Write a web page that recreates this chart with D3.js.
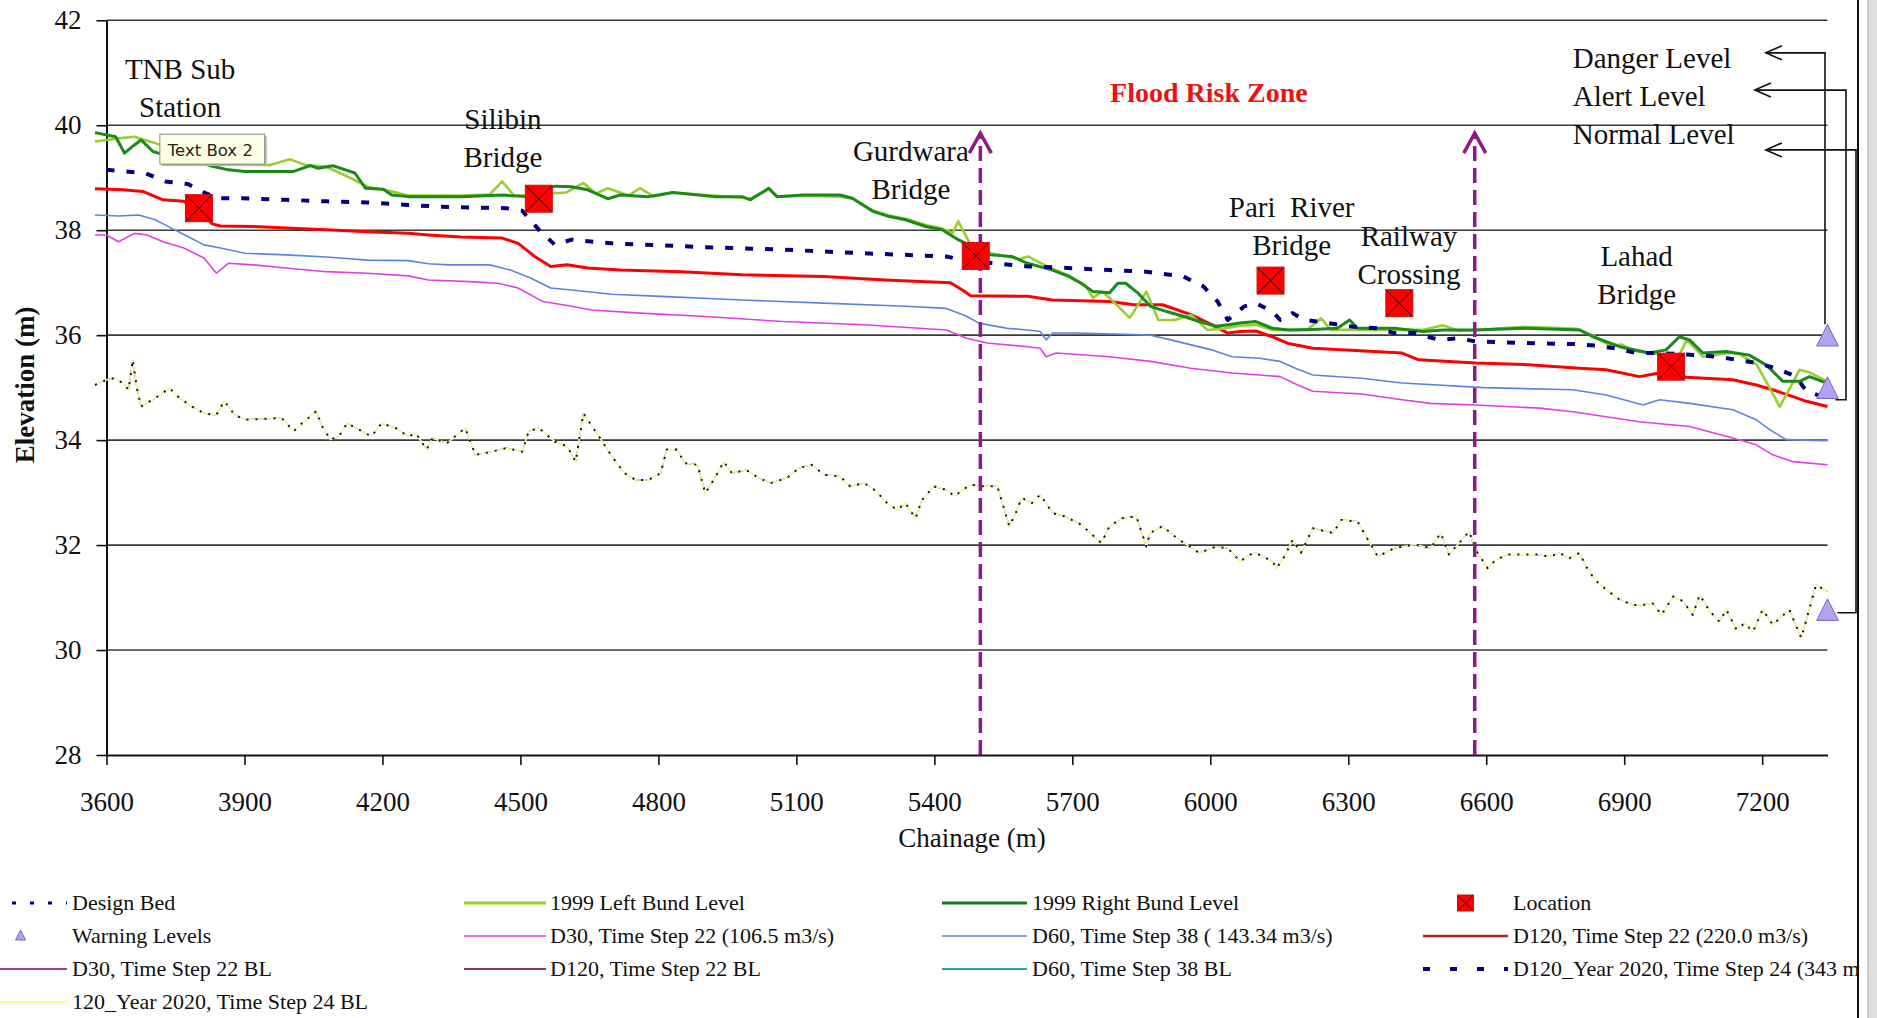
<!DOCTYPE html>
<html>
<head>
<meta charset="utf-8">
<script src="https://cdn.jsdelivr.net/npm/d3@7"></script>
<style>
  html, body { margin: 0; padding: 0; background: #fff; }
  svg { display: block; font-family: "Liberation Serif", "Times New Roman", serif; }
</style>
</head>
<body>
<svg id="chart" width="1877" height="1018"></svg>
<script>
"use strict";

// axis ticks
const xTicks = [3600, 3900, 4200, 4500, 4800, 5100, 5400, 5700, 6000, 6300, 6600, 6900, 7200];
const yTicks = [28, 30, 32, 34, 36, 38, 40, 42];

// [chainage (m), elevation (m)]
const rightBund = [[3575,39.86],[3620,39.78],[3639,39.47],[3660,39.62],[3675,39.72],[3701,39.50],[3720,39.45],[3760,39.38],[3800,39.30],[3830,39.22],[3865,39.15],[3901,39.12],[3945,39.12],[4007,39.12],[4043,39.23],[4060,39.18],[4092,39.23],[4140,39.09],[4163,38.80],[4202,38.78],[4220,38.67],[4256,38.64],[4371,38.64],[4460,38.67],[4513,38.64],[4540,38.72],[4575,38.84],[4611,38.83],[4646,38.77],[4690,38.60],[4717,38.67],[4778,38.64],[4831,38.72],[4920,38.64],[4982,38.64],[5000,38.58],[5040,38.80],[5058,38.64],[5115,38.67],[5195,38.67],[5222,38.61],[5266,38.36],[5302,38.26],[5337,38.20],[5381,38.07],[5417,38.01],[5452,37.82],[5488,37.66],[5523,37.53],[5568,37.50],[5603,37.37],[5657,37.24],[5692,37.12],[5719,36.99],[5745,36.83],[5781,36.81],[5799,36.99],[5816,36.99],[5843,36.80],[5870,36.55],[5905,36.45],[5941,36.36],[5976,36.26],[6012,36.17],[6040,36.20],[6065,36.23],[6099,36.26],[6135,36.13],[6170,36.10],[6223,36.11],[6276,36.13],[6303,36.29],[6320,36.13],[6400,36.13],[6462,36.07],[6506,36.10],[6577,36.10],[6683,36.13],[6803,36.10],[6832,35.97],[6890,35.78],[6955,35.66],[6991,35.72],[7020,35.97],[7042,35.91],[7071,35.66],[7122,35.69],[7172,35.62],[7209,35.43],[7245,35.12],[7281,35.12],[7303,35.21],[7342,35.08]];

const leftBund = [[3575,39.69],[3600,39.72],[3626,39.75],[3661,39.78],[3690,39.70],[3706,39.66],[3740,39.55],[3800,39.40],[3860,39.30],[3900,39.25],[3954,39.24],[3999,39.35],[4034,39.24],[4078,39.21],[4132,38.99],[4167,38.83],[4220,38.74],[4256,38.66],[4371,38.66],[4433,38.68],[4460,38.93],[4486,38.66],[4513,38.66],[4560,38.70],[4600,38.72],[4637,38.90],[4664,38.70],[4690,38.80],[4735,38.66],[4760,38.80],[4790,38.64],[4831,38.72],[4920,38.66],[4982,38.62],[5000,38.60],[5040,38.78],[5058,38.64],[5115,38.66],[5195,38.64],[5222,38.60],[5266,38.38],[5302,38.28],[5337,38.22],[5381,38.10],[5417,38.03],[5440,37.95],[5452,38.17],[5479,37.72],[5523,37.56],[5586,37.45],[5603,37.50],[5657,37.26],[5692,37.14],[5728,36.95],[5745,36.71],[5765,36.83],[5781,36.71],[5825,36.33],[5861,36.83],[5887,36.29],[5923,36.29],[5958,36.39],[5994,36.10],[6030,36.13],[6065,36.18],[6099,36.20],[6135,36.10],[6170,36.10],[6210,36.10],[6241,36.32],[6262,36.10],[6320,36.10],[6400,36.10],[6462,36.10],[6506,36.19],[6540,36.08],[6577,36.10],[6683,36.16],[6797,36.12],[6833,35.99],[6868,35.80],[6895,35.82],[6921,35.70],[6974,35.64],[7001,35.60],[7018,35.59],[7036,35.91],[7071,35.59],[7098,35.62],[7125,35.66],[7151,35.64],[7188,35.44],[7213,35.05],[7238,34.64],[7262,35.02],[7281,35.34],[7300,35.30],[7342,35.12]];

const d120 = [[3575,38.79],[3635,38.77],[3679,38.74],[3723,38.58],[3768,38.55],[3803,38.39],[3830,38.12],[3848,38.08],[3919,38.07],[3990,38.04],[4078,38.01],[4167,37.97],[4256,37.94],[4300,37.91],[4371,37.87],[4460,37.85],[4495,37.75],[4531,37.50],[4566,37.31],[4602,37.34],[4646,37.28],[4717,37.24],[4849,37.21],[4982,37.15],[5160,37.12],[5293,37.05],[5435,37.00],[5461,36.86],[5479,36.75],[5603,36.74],[5657,36.67],[5781,36.64],[5834,36.58],[5896,36.58],[5958,36.39],[6003,36.20],[6038,36.04],[6065,36.07],[6099,36.08],[6135,35.97],[6170,35.84],[6223,35.75],[6285,35.72],[6417,35.66],[6453,35.53],[6577,35.47],[6683,35.44],[6803,35.37],[6861,35.34],[6933,35.21],[6970,35.27],[7035,35.20],[7136,35.15],[7187,35.05],[7223,34.96],[7267,34.83],[7296,34.74],[7342,34.64]];

const d60 = [[3575,38.29],[3626,38.27],[3670,38.29],[3706,38.20],[3741,38.04],[3777,37.88],[3812,37.72],[3848,37.66],[3901,37.56],[3990,37.53],[4078,37.49],[4167,37.43],[4256,37.42],[4300,37.36],[4345,37.34],[4433,37.34],[4478,37.24],[4522,37.09],[4566,36.90],[4611,36.86],[4699,36.78],[4805,36.74],[4982,36.67],[5160,36.61],[5337,36.55],[5426,36.51],[5470,36.36],[5497,36.23],[5559,36.13],[5603,36.10],[5630,36.07],[5643,35.91],[5657,36.04],[5710,36.04],[5870,36.00],[5914,35.91],[6003,35.72],[6047,35.59],[6107,35.56],[6152,35.50],[6190,35.35],[6223,35.24],[6329,35.18],[6417,35.09],[6594,35.00],[6788,34.96],[6861,34.86],[6941,34.67],[6977,34.77],[7042,34.70],[7136,34.58],[7187,34.39],[7216,34.20],[7252,34.01],[7342,33.99]];

const d30 = [[3575,37.91],[3600,37.91],[3626,37.78],[3661,37.94],[3688,37.91],[3723,37.78],[3768,37.66],[3812,37.47],[3839,37.18],[3865,37.37],[3919,37.34],[3990,37.28],[4078,37.21],[4167,37.18],[4256,37.13],[4300,37.05],[4389,37.02],[4451,36.99],[4495,36.90],[4549,36.64],[4611,36.55],[4655,36.48],[4760,36.42],[4893,36.36],[5071,36.26],[5248,36.20],[5426,36.10],[5470,35.94],[5515,35.85],[5603,35.78],[5630,35.75],[5643,35.59],[5665,35.66],[5781,35.59],[5870,35.50],[5958,35.37],[6047,35.28],[6107,35.24],[6152,35.21],[6190,35.05],[6223,34.93],[6329,34.88],[6417,34.77],[6479,34.70],[6577,34.67],[6716,34.61],[6788,34.54],[6933,34.35],[7042,34.26],[7136,34.04],[7187,33.91],[7223,33.72],[7267,33.59],[7342,33.53]];

const d120Year2020 = [[3600,39.15],[3643,39.12],[3683,39.09],[3728,38.93],[3777,38.88],[3805,38.75],[3839,38.61],[3883,38.61],[3990,38.58],[4078,38.55],[4167,38.53],[4256,38.48],[4345,38.44],[4469,38.42],[4504,38.37],[4540,38.01],[4575,37.72],[4611,37.82],[4699,37.75],[4893,37.68],[5071,37.63],[5248,37.56],[5426,37.50],[5479,37.40],[5532,37.37],[5603,37.31],[5692,37.28],[5781,37.24],[5861,37.21],[5941,37.12],[5985,36.93],[6016,36.64],[6038,36.29],[6074,36.55],[6099,36.61],[6135,36.45],[6152,36.29],[6179,36.42],[6205,36.29],[6232,36.26],[6311,36.16],[6364,36.13],[6400,36.04],[6444,36.04],[6497,35.91],[6541,35.94],[6577,35.88],[6683,35.85],[6796,35.83],[6839,35.80],[6879,35.75],[6926,35.66],[6977,35.66],[7057,35.62],[7104,35.59],[7144,35.53],[7187,35.47],[7230,35.37],[7274,35.21],[7296,34.93],[7342,34.80]];

// bed profile: design bed and the four BL runs lie on top of each other
const bedLevel = [[3575,35.05],[3600,35.15],[3617,35.18],[3635,35.09],[3648,34.96],[3657,35.53],[3666,34.99],[3675,34.64],[3706,34.80],[3737,34.99],[3759,34.80],[3786,34.64],[3812,34.51],[3839,34.48],[3856,34.74],[3879,34.48],[3901,34.39],[3981,34.42],[4007,34.17],[4025,34.32],[4056,34.55],[4069,34.26],[4087,34.01],[4105,34.07],[4123,34.32],[4149,34.20],[4176,34.07],[4198,34.32],[4229,34.23],[4256,34.07],[4273,34.13],[4296,33.82],[4309,34.04],[4340,33.94],[4380,34.23],[4402,33.72],[4433,33.77],[4469,33.85],[4504,33.78],[4518,34.17],[4540,34.23],[4575,33.97],[4602,33.88],[4620,33.59],[4637,34.51],[4673,34.04],[4699,33.69],[4726,33.37],[4751,33.24],[4778,33.24],[4805,33.37],[4818,33.82],[4840,33.82],[4858,33.56],[4885,33.53],[4902,32.99],[4925,33.31],[4942,33.59],[4960,33.37],[4991,33.43],[5018,33.28],[5044,33.18],[5080,33.28],[5106,33.47],[5133,33.53],[5160,33.34],[5195,33.31],[5217,33.12],[5248,33.18],[5275,33.02],[5293,32.83],[5319,32.67],[5337,32.80],[5359,32.51],[5373,32.86],[5399,33.12],[5426,33.05],[5444,32.93],[5461,33.05],[5479,33.15],[5506,33.12],[5537,33.12],[5550,32.74],[5563,32.36],[5577,32.61],[5590,32.90],[5612,32.80],[5630,32.96],[5657,32.61],[5683,32.55],[5719,32.39],[5763,32.04],[5781,32.36],[5808,32.51],[5839,32.55],[5861,31.97],[5869,32.23],[5896,32.36],[5932,32.10],[5949,32.01],[5976,31.85],[6012,31.97],[6038,31.94],[6065,31.69],[6087,31.82],[6099,31.85],[6135,31.69],[6144,31.56],[6161,31.78],[6179,32.10],[6197,31.85],[6223,32.32],[6267,32.23],[6285,32.48],[6320,32.45],[6347,32.04],[6364,31.78],[6400,31.94],[6444,32.01],[6479,31.94],[6501,32.23],[6519,31.82],[6563,32.26],[6577,31.91],[6603,31.56],[6621,31.72],[6647,31.82],[6709,31.82],[6738,31.78],[6759,31.85],[6781,31.75],[6803,31.85],[6817,31.59],[6836,31.34],[6861,31.15],[6890,30.96],[6919,30.86],[6941,30.86],[6962,30.89],[6981,30.67],[7006,31.02],[7028,30.93],[7049,30.67],[7064,31.05],[7086,30.74],[7107,30.54],[7122,30.77],[7144,30.39],[7162,30.51],[7180,30.35],[7201,30.77],[7223,30.48],[7259,30.77],[7285,30.23],[7317,31.24],[7342,31.12]];

const locations = [[3801,38.42],[4540,38.60],[5490,37.51],[6131,37.04],[6411,36.61],[7002,35.40]];
const warningLevels = [[7342,36.0],[7342,35.0],[7342,30.77]];
const warningNames = ["Danger Level", "Alert Level", "Normal Level"];
const riskZoneBounds = [5500, 6575];

const siteLabels = [
  { lines: ["TNB Sub", "Station"], ch: 3760, el: 40.88 },
  { lines: ["Silibin", "Bridge"], ch: 4462, el: 39.93 },
  { lines: ["Gurdwara", "Bridge"], ch: 5349, el: 39.31 },
  { lines: ["Pari  River", "Bridge"], ch: 6177, el: 38.26 },
  { lines: ["Railway", "Crossing"], ch: 6432, el: 37.69 },
  { lines: ["Lahad", "Bridge"], ch: 6927, el: 37.31 }
];

const legendLabels = [
  "Design Bed", "1999 Left Bund Level", "1999 Right Bund Level", "Location",
  "Warning Levels", "D30, Time Step 22 (106.5 m3/s)", "D60, Time Step 38 ( 143.34 m3/s)", "D120, Time Step 22 (220.0 m3/s)",
  "D30, Time Step 22 BL", "D120, Time Step 22 BL", "D60, Time Step 38 BL", "D120_Year 2020, Time Step 24 (343 m3/s)",
  "120_Year 2020, Time Step 24 BL"
];

// ---------------------------------------------------------------
const svg = d3.select("#chart");
const W = 1877, H = 1018;
const x0 = 106.5, x1 = 1827.5, y0 = 20.3, y1 = 755;

const x = d3.scaleLinear().domain([3600, 7342]).range([x0, x1]);
const y = d3.scaleLinear().domain([28, 42]).range([y1, y0]);

svg.append("rect").attr("width", W).attr("height", H).attr("fill", "#fff");

// window edge on the right
svg.append("rect").attr("x", 1868).attr("y", 0).attr("width", 9).attr("height", H).attr("fill", "#dedede");
svg.append("line").attr("x1", 1868).attr("x2", 1868).attr("y1", 0).attr("y2", H).attr("stroke", "#a8a8a8");
svg.append("line").attr("x1", 1858).attr("x2", 1858).attr("y1", 0).attr("y2", H).attr("stroke", "#111").attr("stroke-width", 2);

// grid
svg.append("g").selectAll("line").data(yTicks.filter(d => d > 28)).join("line")
  .attr("x1", x0).attr("x2", x1)
  .attr("y1", d => y(d)).attr("y2", d => y(d))
  .attr("stroke", "#3a3a3a").attr("stroke-width", 1.6);

// axes
const xAxis = svg.append("g").attr("transform", `translate(0,${y1})`)
  .call(d3.axisBottom(x).tickValues(xTicks).tickFormat(d3.format("d")).tickSize(10).tickSizeOuter(0));
xAxis.select(".domain").attr("stroke", "#111").attr("stroke-width", 2);
xAxis.selectAll(".tick line").attr("stroke", "#111").attr("stroke-width", 1.6);
xAxis.selectAll("text").attr("y", 56).attr("dy", 0)
  .style("font-family", "Liberation Serif").style("font-size", "27px").attr("fill", "#111");

const yAxis = svg.append("g").attr("transform", `translate(${x0},0)`)
  .call(d3.axisLeft(y).tickValues(yTicks).tickSize(10).tickPadding(15).tickSizeOuter(0));
yAxis.select(".domain").attr("stroke", "#111").attr("stroke-width", 2);
yAxis.selectAll(".tick line").attr("stroke", "#111").attr("stroke-width", 1.6);
yAxis.selectAll("text")
  .style("font-family", "Liberation Serif").style("font-size", "27px").attr("fill", "#111");

svg.append("text").attr("x", 972).attr("y", 847).attr("text-anchor", "middle")
  .style("font-size", "27px").attr("fill", "#111").text("Chainage (m)");
svg.append("text").attr("transform", "translate(34,385) rotate(-90)").attr("text-anchor", "middle")
  .style("font-size", "27px").style("font-weight", "bold").attr("fill", "#111").text("Elevation (m)");

// series
const line = d3.line().x(d => x(d[0])).y(d => y(d[1]));

const series = [
  { data: bedLevel, stroke: "#2aa198", width: 1 },
  { data: bedLevel, stroke: "#8b3a4a", width: 1 },
  { data: bedLevel, stroke: "#9b3fa0", width: 1 },
  { data: bedLevel, stroke: "#fbfb9c", width: 1.6 },
  { data: bedLevel, stroke: "#101040", width: 2, dash: "2,7" },
  { data: d30, stroke: "#e040e0", width: 1.6 },
  { data: d60, stroke: "#5b84e0", width: 1.6 },
  { data: d120, stroke: "#ff0000", width: 3 },
  { data: leftBund, stroke: "#9acd32", width: 2.6 },
  { data: rightBund, stroke: "#1a8a1a", width: 3 },
  { data: d120Year2020, stroke: "#000080", width: 4, dash: "8,12" }
];

svg.append("g").selectAll("path").data(series).join("path")
  .attr("d", d => line(d.data))
  .attr("fill", "none")
  .attr("stroke", d => d.stroke)
  .attr("stroke-width", d => d.width)
  .attr("stroke-dasharray", d => d.dash || null)
  .attr("stroke-linejoin", "round");

// flood risk zone arrows
const arrowTop = y(39.85);
const zone = svg.append("g").attr("stroke", "#8b1a8b").attr("fill", "none").attr("stroke-width", 3.5);
zone.selectAll("line").data(riskZoneBounds).join("line")
  .attr("x1", d => x(d)).attr("x2", d => x(d))
  .attr("y1", y1).attr("y2", arrowTop + 3)
  .attr("stroke-dasharray", "15,7");
zone.selectAll("path").data(riskZoneBounds).join("path")
  .attr("d", d => `M${x(d) - 11},${arrowTop + 20}L${x(d)},${arrowTop}L${x(d) + 11},${arrowTop + 20}`);

svg.append("text").attr("x", x(5997)).attr("y", y(40.45)).attr("text-anchor", "middle")
  .style("font-size", "28px").style("font-weight", "bold").attr("fill", "#ee1111").text("Flood Risk Zone");

// location markers
function drawLocation(g, cx, cy, s) {
  g.append("rect").attr("x", cx - s / 2).attr("y", cy - s / 2).attr("width", s).attr("height", s)
    .attr("fill", "#ff0000").attr("stroke", "#c81010").attr("stroke-width", 1);
  g.append("path").attr("d", `M${cx - s / 2 + 1},${cy - s / 2 + 1}L${cx + s / 2 - 1},${cy + s / 2 - 1}M${cx + s / 2 - 1},${cy - s / 2 + 1}L${cx - s / 2 + 1},${cy + s / 2 - 1}`)
    .attr("stroke", "#3a0000").attr("stroke-width", 1);
}
const locG = svg.append("g");
locations.forEach(d => drawLocation(locG, x(d[0]), y(d[1]), 27));

// warning levels
function triangle(cx, cy, r) {
  return `M${cx},${cy - r}L${cx + r},${cy + r}L${cx - r},${cy + r}Z`;
}
const conn = svg.append("g").attr("stroke", "#111").attr("stroke-width", 1.6).attr("fill", "none");
const tipD = x(7208), tipA = x(7184);
const yD = y(41.38), yA = y(40.67), yN = y(39.53);
conn.append("path").attr("d", `M${tipD},${yD}H${x1 - 2.5}V${y(36) - 11}`);
conn.append("path").attr("d", `M${tipA},${yA}H${x1 + 18.5}V${y(34.77)}H${x1 + 8}`);
conn.append("path").attr("d", `M${tipD},${yN}H${x1 + 28.5}V${y(30.71)}H${x1 + 10}`);
[[tipD, yD], [tipA, yA], [tipD, yN]].forEach(p => {
  conn.append("path").attr("d", `M${p[0] + 16},${p[1] - 7}L${p[0]},${p[1]}L${p[0] + 16},${p[1] + 7}`);
});

svg.append("g").selectAll("path").data(warningLevels).join("path")
  .attr("d", d => triangle(x(d[0]), y(d[1]), 10.8))
  .attr("fill", "#b3a2ee").attr("stroke", "#7b62c9").attr("stroke-width", 1);

svg.append("g").selectAll("text").data(warningNames).join("text")
  .attr("x", x(6788)).attr("y", (d, i) => [y(41.09), y(40.37), y(39.64)][i])
  .style("font-size", "29px").attr("fill", "#111").text(d => d);

// site labels
const lab = svg.append("g").style("font-size", "29px").attr("fill", "#111").attr("text-anchor", "middle");
siteLabels.forEach(s => {
  s.lines.forEach((t, i) => {
    lab.append("text").attr("x", x(s.ch)).attr("y", y(s.el) + i * 38)
      .style("white-space", "pre").text(t);
  });
});

// "Text Box 2"
const tbx = x(3716), tby = y(39.83), tbw = x(3944) - x(3716), tbh = y(39.26) - y(39.83);
svg.append("rect").attr("x", tbx + 2).attr("y", tby + 2).attr("width", tbw).attr("height", tbh).attr("fill", "#b8b8b0");
svg.append("rect").attr("x", tbx).attr("y", tby).attr("width", tbw).attr("height", tbh)
  .attr("fill", "#ffffe4").attr("stroke", "#8a8a80").attr("stroke-width", 1);
svg.append("text").attr("x", tbx + 8).attr("y", tby + 22)
  .style("font-family", "DejaVu Sans").style("font-size", "16.5px").attr("fill", "#222").text("Text Box 2");

// legend
const legCols = [{ l0: -6, l1: 67, t: 72 }, { l0: 464, l1: 546, t: 550 }, { l0: 942, l1: 1027, t: 1032 }, { l0: 1423, l1: 1508, t: 1513 }];
const legRows = [910, 943, 976, 1009];
const legStyle = [
  { type: "line", stroke: "#000080", width: 3, dash: "4,14" },
  { type: "line", stroke: "#9acd32", width: 3 },
  { type: "line", stroke: "#1a7a1a", width: 3 },
  { type: "loc" },
  { type: "tri" },
  { type: "line", stroke: "#e040e0", width: 1.6 },
  { type: "line", stroke: "#5b84e0", width: 1.6 },
  { type: "line", stroke: "#c42020", width: 2.6 },
  { type: "line", stroke: "#9b3fa0", width: 2 },
  { type: "line", stroke: "#8b3a4a", width: 2 },
  { type: "line", stroke: "#2aa198", width: 2 },
  { type: "line", stroke: "#000080", width: 4, dash: "7,20" },
  { type: "line", stroke: "#ffff88", width: 2 }
];

svg.append("clipPath").attr("id", "legclip").append("rect").attr("x", 0).attr("y", 860).attr("width", 1857).attr("height", 160);
const leg = svg.append("g").attr("clip-path", "url(#legclip)");
legendLabels.forEach((name, i) => {
  const c = legCols[i % 4], by = legRows[Math.floor(i / 4)];
  const st = legStyle[i];
  if (st.type === "line") {
    leg.append("line").attr("x1", c.l0).attr("x2", c.l1).attr("y1", by - 7).attr("y2", by - 7)
      .attr("stroke", st.stroke).attr("stroke-width", st.width).attr("stroke-dasharray", st.dash || null);
  } else if (st.type === "loc") {
    drawLocation(leg, (c.l0 + c.l1) / 2, by - 7, 16);
  } else {
    leg.append("path").attr("d", triangle((c.l0 + c.l1) / 2 - 10, by - 8, 5))
      .attr("fill", "#b3a2ee").attr("stroke", "#7b62c9").attr("stroke-width", 1);
  }
  leg.append("text").attr("x", c.t).attr("y", by).style("font-size", "22px").attr("fill", "#111").text(name);
});
</script>
</body>
</html>
